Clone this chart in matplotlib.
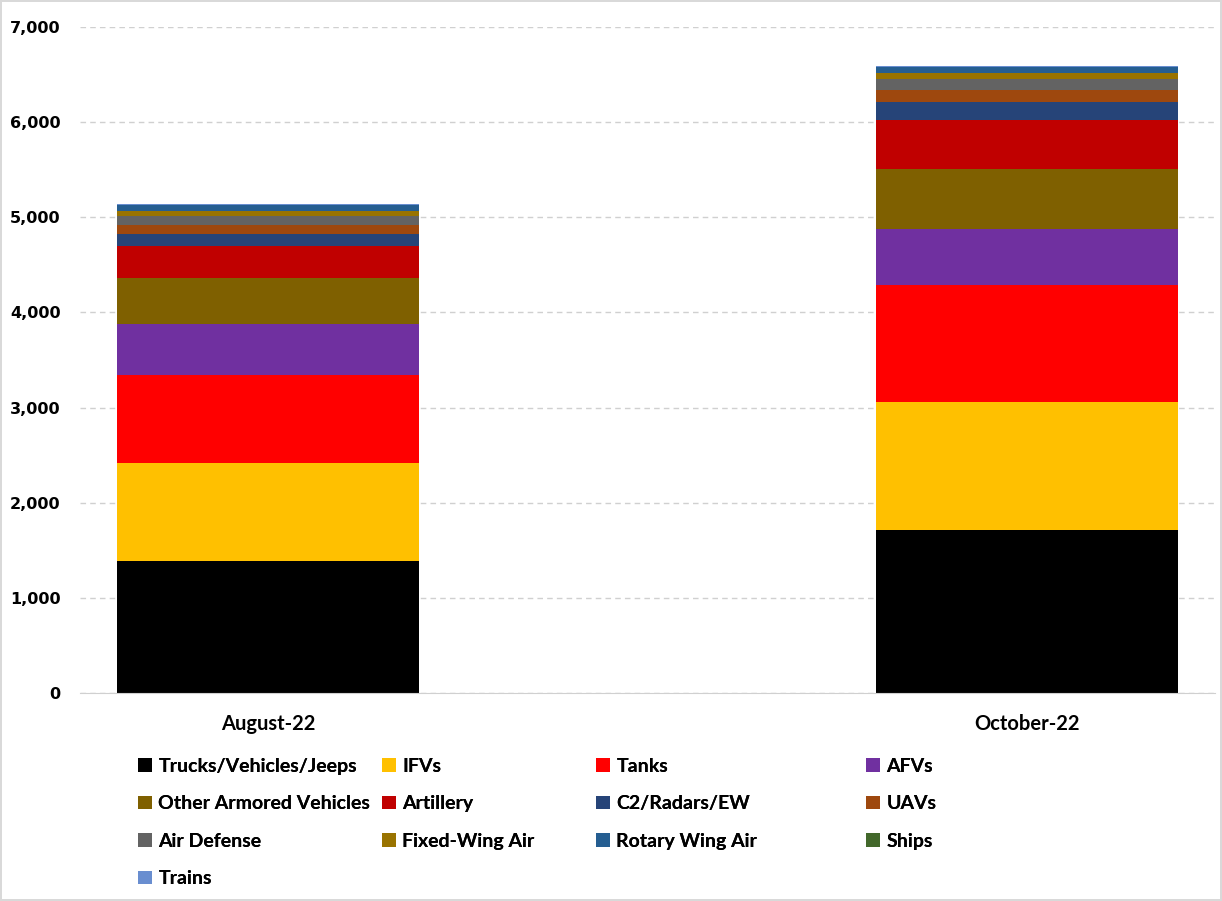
import matplotlib.pyplot as plt
from matplotlib.patches import Patch
from matplotlib.ticker import FuncFormatter

categories = ['August-22', 'October-22']

series_names = ['Trucks/Vehicles/Jeeps', 'IFVs', 'Tanks', 'AFVs', 'Other Armored Vehicles',
                'Artillery', 'C2/Radars/EW', 'UAVs', 'Air Defense', 'Fixed-Wing Air',
                'Rotary Wing Air', 'Ships', 'Trains']

trucks = [1390, 1713]
ifvs = [1027, 1346]
tanks = [925, 1229]
afvs = [536, 589]
other_av = [484, 631]
artillery = [336, 515]
c2 = [123, 192]
uavs = [101, 126]
air_def = [95, 116]
fixed_wing = [46, 56]
rotary = [66, 64]
ships = [2, 2]
trains = [6, 6]

values = [trucks, ifvs, tanks, afvs, other_av, artillery, c2, uavs, air_def,
          fixed_wing, rotary, ships, trains]

colors = ['#000000', '#FFC000', '#FF0000', '#7030A0', '#7F6000', '#C00000', '#264478',
          '#9E480E', '#636363', '#997300', '#255E91', '#43682B', '#698ED0']

fig = plt.figure(figsize=(12.22, 9.01), dpi=100)
fig.patch.set_edgecolor('#D9D9D9')
fig.patch.set_linewidth(1.5)
ax = fig.add_axes([80 / 1222, 1 - 693 / 901, 1135 / 1222, 666 / 901])

x = [0, 1]
bottom = [0, 0]
for name, vals, col in zip(series_names, values, colors):
    ax.bar(x, vals, width=0.398, bottom=bottom, color=col, label=name, zorder=3)
    bottom = [b + v for b, v in zip(bottom, vals)]

ax.set_xlim(-0.248, 1.248)
ax.set_ylim(0, 7000)
ax.set_yticks(range(0, 7001, 1000))
ax.yaxis.set_major_formatter(FuncFormatter(lambda v, p: f'{int(v):,}'))
ax.yaxis.grid(True, color='#D0D0D0', linestyle=(0, (4, 3)), linewidth=1, zorder=0)
ax.set_xticks(x)
ax.set_xticklabels(categories, fontfamily='Lato', fontweight='bold', fontsize=14.5)
for lab in ax.get_yticklabels():
    lab.set_fontweight('bold')
    lab.set_fontsize(11.5)
ax.tick_params(axis='both', length=0)
ax.tick_params(axis='x', pad=15)
ax.tick_params(axis='y', pad=14)
for s in ['top', 'right', 'left']:
    ax.spines[s].set_visible(False)
ax.spines['bottom'].set_color('#D0D0D0')
ax.spines['bottom'].set_zorder(4)

# legend laid out in four columns like the original
columns = [[0, 4, 8, 12], [1, 5, 9], [2, 6, 10], [3, 7, 11]]
col_x = [138, 382, 596, 866]
for cx, idxs in zip(col_x, columns):
    handles = [Patch(facecolor=colors[i], edgecolor='none') for i in idxs]
    labels = [series_names[i] for i in idxs]
    leg = fig.legend(handles, labels, loc='upper left',
                     bbox_to_anchor=(cx / 1222, 1 - 758 / 901),
                     frameon=False, prop={'family': 'Lato', 'weight': 'bold', 'size': 14},
                     handlelength=0.7, handleheight=0.7, handletextpad=0.35,
                     labelspacing=1.05, borderaxespad=0, borderpad=0)
    fig.add_artist(leg)

fig.savefig('out.png', dpi=100)
